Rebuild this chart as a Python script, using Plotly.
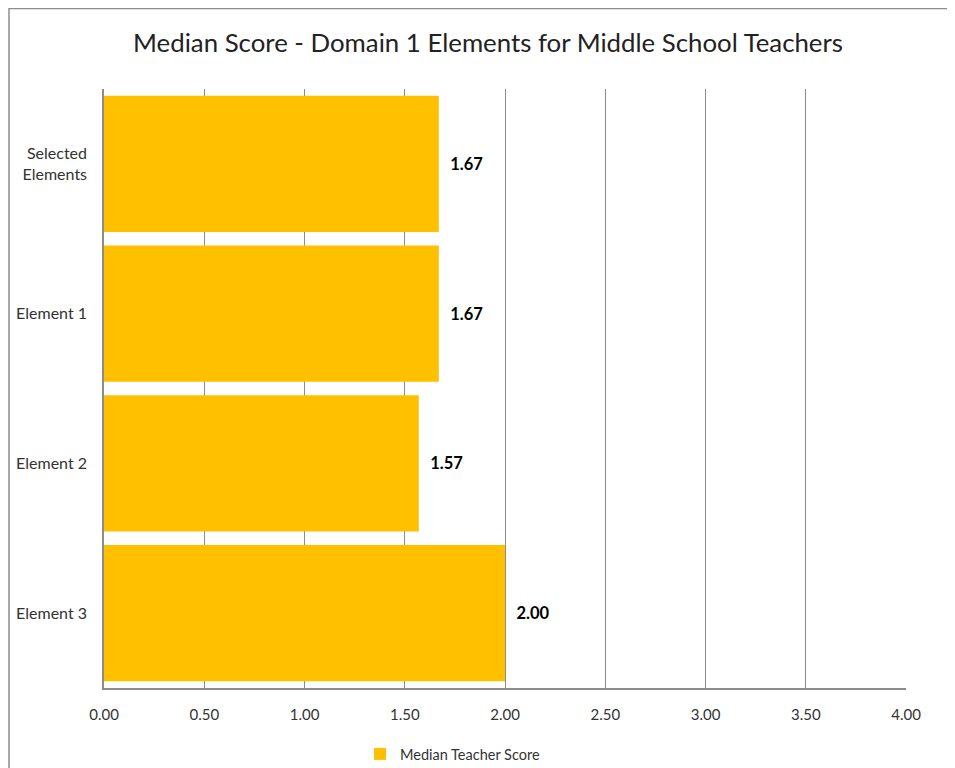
import plotly.graph_objects as go

categories = ["Selected<br>Elements", "Element 1", "Element 2", "Element 3"]
scores = [1.67, 1.67, 1.57, 2.00]
labels = ["1.67", "1.67", "1.57", "2.00"]
tick_vals = [0, 0.5, 1, 1.5, 2, 2.5, 3, 3.5, 4]
tick_text = ["0.00", "0.50", "1.00", "1.50", "2.00", "2.50", "3.00", "3.50", "4.00"]
series_name = "Median Teacher Score"
title = "Median Score - Domain 1 Elements for Middle School Teachers"

# page body adds an 8px offset, so the figure is laid out 8px smaller
W, H = 947, 760
L, R, T, B = 96, 49, 81, 80
pw, ph = W - L - R, H - T - B

fig = go.Figure()
fig.add_trace(go.Bar(
    y=categories, x=scores, orientation="h", name=series_name,
    marker=dict(color="#FFC000", line=dict(width=0)),
    text=["\u00a0\u00a0<b>%s</b>" % t for t in labels], textposition="outside",
    textfont=dict(size=16.5, color="#000000", family="Lato"),
    cliponaxis=False,
))

fig.update_layout(
    width=W, height=H,
    margin=dict(l=L, r=R, t=T, b=B, autoexpand=False),
    paper_bgcolor="white", plot_bgcolor="white",
    font=dict(family="Lato", color="#333333"),
    title=dict(text=title, xref="container", x=480 / W, xanchor="center",
               y=1 - 35 / H, yanchor="middle",
               font=dict(size=25.8, color="#222222", family="Lato")),
    bargap=0.09,
    showlegend=True,
    legend=dict(orientation="h", x=(352 - L) / pw, xanchor="left",
                y=-(746 - (T + ph)) / ph, yanchor="middle",
                font=dict(size=14.5, color="#333333"), itemwidth=30),
    xaxis=dict(range=[0, 4], tickvals=tick_vals, ticktext=tick_text,
               showgrid=True, gridcolor="#8c8c8c", gridwidth=1,
               showline=True, linecolor="#8c8c8c", linewidth=1.5, mirror=False,
               zeroline=False, ticks="", tickfont=dict(size=15, color="#333333"),
               ticklabelstandoff=12),
    yaxis=dict(autorange="reversed", showline=True, linecolor="#8c8c8c", linewidth=1.5,
               showgrid=False, ticks="", tickfont=dict(size=16, color="#333333"),
               ticklabelstandoff=12),
    shapes=[dict(type="rect", xref="paper", yref="paper",
                 x0=(1 - L) / pw, x1=1.2, y0=-0.3, y1=(T + ph - 0.5) / ph,
                 line=dict(color="#8c8c8c", width=1.5), fillcolor="rgba(0,0,0,0)", layer="below")],
)

fig.write_html("out.html")
